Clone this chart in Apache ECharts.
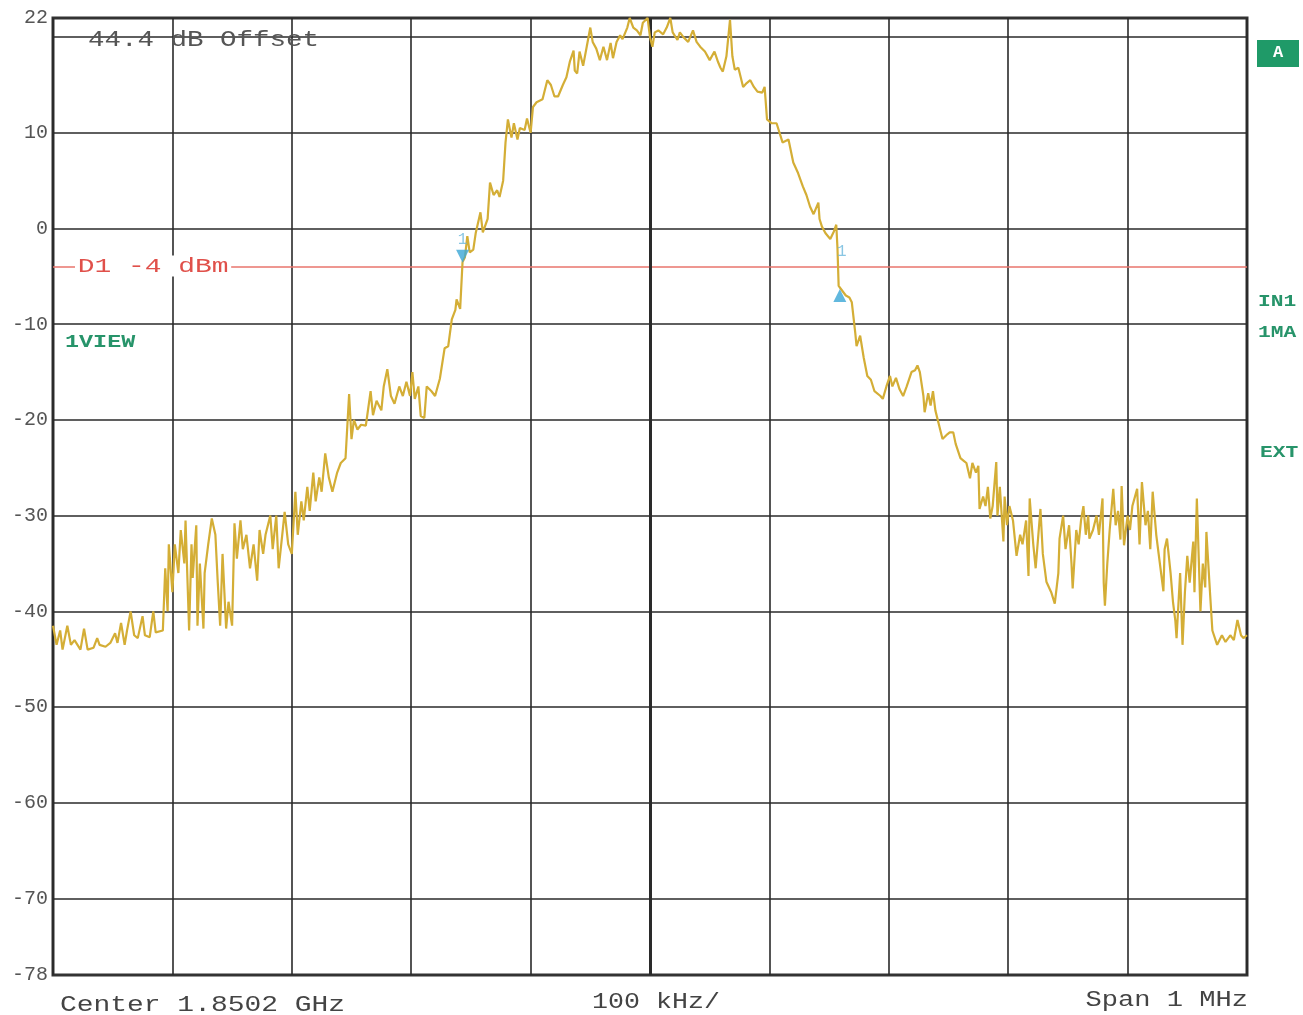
<!DOCTYPE html>
<html>
<head>
<meta charset="utf-8">
<script src="https://cdn.jsdelivr.net/npm/echarts@6/dist/echarts.min.js"></script>
<style>
html,body{margin:0;padding:0;background:#fff;}
#chart{width:1303px;height:1015px;}
</style>
</head>
<body>
<div id="chart"></div>
<script>
// Frequency offset from center (kHz) and level (dBm) of the trace
var traceFreq = [-500,-497,-494,-492,-488,-485,-482,-477,-474,-471,-466,-463,-461,-456,-452,-448,-446,-443,-440,-438,-435,-432,-429,-425,-423,-419,-416,-414,-408,-406,-404,-403,-400,-398,-395,-393,-390,-389,-386,-384,-383,-380,-379,-377,-374,-373,-370,-367,-364,-362,-360,-358,-355,-353,-350,-348,-346,-343,-341,-338,-335,-332,-329,-327,-324,-322,-318,-316,-313,-311,-308,-306,-303,-300,-297,-295,-292,-290,-287,-285,-282,-280,-277,-275,-272,-269,-266,-262,-259,-255,-252,-250,-248,-245,-242,-238,-234,-232,-229,-225,-223,-220,-217,-214,-210,-207,-204,-201,-199,-197,-194,-192,-189,-187,-183,-180,-176,-172,-169,-166,-163,-162,-159,-157,-155,-153,-151,-148,-146,-142,-140,-136,-134,-131,-128,-126,-123,-121,-119,-116,-114,-111,-109,-105,-103,-100,-98,-95,-90,-86,-83,-80,-77,-73,-70,-67,-64,-63,-61,-59,-56,-53,-50,-48,-45,-42,-39,-36,-33,-31,-28,-25,-23,-19,-17,-14,-11,-8,-6,-2,0,2,4,7,11,14,17,19,23,25,28,32,36,39,42,46,50,54,57,59,61,64,67,69,71,74,78,81,84,87,90,94,96,98,102,106,111,116,120,124,128,131,134,137,141,142,144,147,151,154,156,157,158,161,164,167,169,172,173,176,179,182,185,188,193,195,198,201,203,206,209,212,215,219,222,224,226,229,230,233,235,237,239,243,245,249,251,254,256,260,263,265,268,270,273,275,276,279,281,283,285,287,290,291,293,296,297,299,301,304,307,310,312,315,317,318,321,323,327,329,332,336,339,342,343,346,348,351,353,354,357,359,361,363,365,367,368,371,374,376,379,380,381,383,385,388,390,392,394,395,397,400,402,404,408,410,412,415,417,419,421,424,426,430,431,433,436,438,440,441,444,446,448,450,452,455,456,458,461,463,465,466,469,471,475,479,482,486,489,492,495,497,500];
var traceLevel = [-41.5,-43.5,-42,-44,-41.5,-43.5,-43,-44,-41.8,-44,-43.8,-42.8,-43.5,-43.7,-43.3,-42.3,-43.3,-41.2,-43.5,-42,-40,-42.5,-42.8,-40.5,-42.5,-42.7,-40,-42.2,-42,-35.5,-40,-33,-38,-33,-36,-31.5,-35,-30.5,-42,-33,-36.5,-31,-41.5,-35,-41.8,-36,-33,-30.3,-32,-37,-41.5,-34,-41.8,-39,-41.5,-30.8,-34.5,-30.5,-33.5,-32,-35.5,-33,-36.8,-31.5,-34,-32,-30,-33.5,-30,-35.5,-32,-29.6,-33,-34,-27.5,-32,-28.5,-30.5,-27,-29.5,-25.5,-28.5,-26,-27.5,-23.5,-26,-27.5,-25.5,-24.5,-24,-17.3,-22,-20,-21,-20.5,-20.6,-17,-19.5,-18,-19,-16.5,-14.7,-17.5,-18.3,-16.5,-17.5,-16,-17.5,-15,-17.8,-16.5,-19.6,-19.8,-16.5,-17,-17.5,-15.7,-12.5,-12.3,-9.5,-8.5,-7.4,-8.4,-3.5,-3,-0.8,-2.5,-2.2,-0.5,1.7,-0.4,1,4.8,3.5,4,3.3,5,9,11.4,9.5,11,9.3,10.5,10.3,11.5,10,12.7,13.2,13.5,15.5,15,13.8,13.8,15,15.8,17.5,18.6,16.5,16.2,18.5,17,19,21,19.5,18.8,17.6,19,17.6,19.4,17.8,19.5,20.2,19.8,21,22,21,20.7,20.2,21.5,22,20,19,20.5,20.7,20.3,21,22,20.5,19.7,20.5,20,19.5,20.7,19.5,19,18.5,17.6,18.5,17.4,16.8,16.4,18,21.8,18,16.6,16.8,14.8,15.2,15.5,14.8,14.3,14.2,14.8,11.4,11,11,9,9.3,6.9,5.8,4.4,3.5,2.3,1.5,2.7,1,0.2,-0.5,-1.1,-0.3,0.4,-2,-6,-6.5,-7,-7.2,-7.7,-11,-12.3,-11.2,-13.5,-15.4,-15.8,-17,-17.5,-17.8,-16.5,-15.4,-16.5,-15.6,-16.8,-17.5,-16.5,-15,-14.8,-14.3,-15,-17.5,-19.2,-17.2,-18.5,-17,-19,-21,-22,-21.5,-21.3,-21.3,-22.5,-24,-24.3,-24.5,-26.1,-24.5,-25.5,-24.8,-29.3,-28,-29,-27,-30.3,-29,-24.4,-30,-27,-32.7,-28,-31,-29,-30.5,-34.2,-32,-33,-30.5,-36.3,-28.2,-33,-35.5,-29.3,-34,-36.9,-38,-39.2,-36,-32.4,-30,-33.5,-31,-35,-37.6,-31.5,-33,-30.5,-29,-32,-30,-32.4,-31.5,-30,-32,-28.2,-37,-39.4,-35,-31.5,-27.2,-31,-29.5,-32.5,-26.9,-33.1,-30,-31.5,-29,-27.2,-33,-26.5,-31,-29.5,-33.5,-27.5,-32,-34,-37.9,-33.5,-32.4,-36,-39,-41,-42.8,-36,-43.5,-38,-34.2,-37,-32.7,-38,-28.2,-40,-35,-37.5,-31.7,-38,-42,-43.5,-42.5,-43.2,-42.5,-43,-40.9,-42.5,-42.8,-42.5];

// Delta markers
var markerFreq = [-157, 159];
var markerLevel = [-2.9, -7.0];

// Display line D1
var displayLine = -4;

// Axis ticks
var yGridValues = [20, 10, 0, -10, -20, -30, -40, -50, -60, -70];
var yLabelValues = [22, 10, 0, -10, -20, -30, -40, -50, -60, -70, -78];

var traceData = traceFreq.map(function (f, i) { return [f, traceLevel[i]]; });

var chart = echarts.init(document.getElementById('chart'), null, {renderer: 'canvas'});
var mono = 'Liberation Mono';
var grey = '#555';
var green = '#27946a';

var option = {
  backgroundColor: '#ffffff',
  animation: false,
  grid: {left: 53, right: 56, top: 18, bottom: 40, show: true, borderColor: '#333', borderWidth: 3, backgroundColor: 'transparent'},
  xAxis: {
    type: 'value', min: -500, max: 500, interval: 100,
    axisLine: {show: false}, axisTick: {show: false}, axisLabel: {show: false},
    splitLine: {show: true, lineStyle: {color: '#2a2a2a', width: 1.6}}
  },
  yAxis: {
    type: 'value', min: -78, max: 22,
    axisLine: {show: false},
    axisTick: {show: false, customValues: yGridValues},
    axisLabel: {show: true, customValues: yLabelValues, color: grey, fontFamily: mono, fontSize: 20, margin: 5},
    splitLine: {show: true, lineStyle: {color: '#2a2a2a', width: 1.6}}
  },
  series: [
    {
      type: 'line', data: traceData, showSymbol: false, symbol: 'none',
      lineStyle: {color: '#d4ae36', width: 2.2}, z: 5,
      markLine: {
        silent: true, symbol: 'none', animation: false,
        label: {show: false},
        data: [
          {yAxis: displayLine, lineStyle: {color: '#e8756c', width: 1.5, type: 'solid'}},
          {xAxis: 0, lineStyle: {color: '#2a2a2a', width: 3, type: 'solid'}}
        ]
      }
    },
    {
      type: 'scatter', z: 6, symbolSize: 13,
      itemStyle: {color: '#3aa6d6'},
      data: [
        {value: [markerFreq[0], markerLevel[0]], symbol: 'triangle', symbolRotate: 180,
         label: {show: true, formatter: '1', position: 'top', distance: 2, color: '#6bb8dc', fontFamily: mono, fontSize: 16}},
        {value: [markerFreq[1], markerLevel[1]], symbol: 'triangle',
         label: {show: true, formatter: '1', position: 'top', offset: [2, -24], color: '#6bb8dc', fontFamily: mono, fontSize: 16}}
      ]
    }
  ],
  graphic: [
    {type: 'text', x: 88, y: 40, z: 10, scaleX: 1.25,
     style: {text: '44.4 dB Offset', font: '22px "Liberation Mono"', fill: grey, verticalAlign: 'middle'}},
    {type: 'text', x: 75, y: 266, z: 10, scaleX: 1.33,
     style: {text: 'D1 -4 dBm', font: '21px "Liberation Mono"', fill: '#e0504a', backgroundColor: '#fff', verticalAlign: 'middle', padding: [0, 2]}},
    {type: 'text', x: 65, y: 342, z: 10, scaleX: 1.3,
     style: {text: '1VIEW', font: 'bold 18px "Liberation Mono"', fill: green, verticalAlign: 'middle'}},
    {type: 'rect', shape: {x: 1257, y: 40, width: 42, height: 27}, style: {fill: '#1f9a68'}, z: 10},
    {type: 'text', x: 1278, y: 53, z: 11,
     style: {text: 'A', font: 'bold 17px "Liberation Mono"', fill: '#fff', align: 'center', verticalAlign: 'middle'}},
    {type: 'text', x: 1258, y: 302, z: 10, scaleX: 1.25,
     style: {text: 'IN1', font: 'bold 17px "Liberation Mono"', fill: green, verticalAlign: 'middle'}},
    {type: 'text', x: 1258, y: 333, z: 10, scaleX: 1.25,
     style: {text: '1MA', font: 'bold 17px "Liberation Mono"', fill: green, verticalAlign: 'middle'}},
    {type: 'text', x: 1260, y: 453, z: 10, scaleX: 1.25,
     style: {text: 'EXT', font: 'bold 17px "Liberation Mono"', fill: green, verticalAlign: 'middle'}},
    {type: 'text', x: 60, y: 1005, z: 10, scaleX: 1.27,
     style: {text: 'Center 1.8502 GHz', font: '22px "Liberation Mono"', fill: '#444', verticalAlign: 'middle'}},
    {type: 'text', x: 656, y: 1002, z: 10, scaleX: 1.21,
     style: {text: '100 kHz/', font: '22px "Liberation Mono"', fill: '#444', align: 'center', verticalAlign: 'middle'}},
    {type: 'text', x: 1248, y: 1000, z: 10, scaleX: 1.23,
     style: {text: 'Span 1 MHz', font: '22px "Liberation Mono"', fill: '#444', align: 'right', verticalAlign: 'middle'}}
  ]
};
chart.setOption(option);
</script>
</body>
</html>
